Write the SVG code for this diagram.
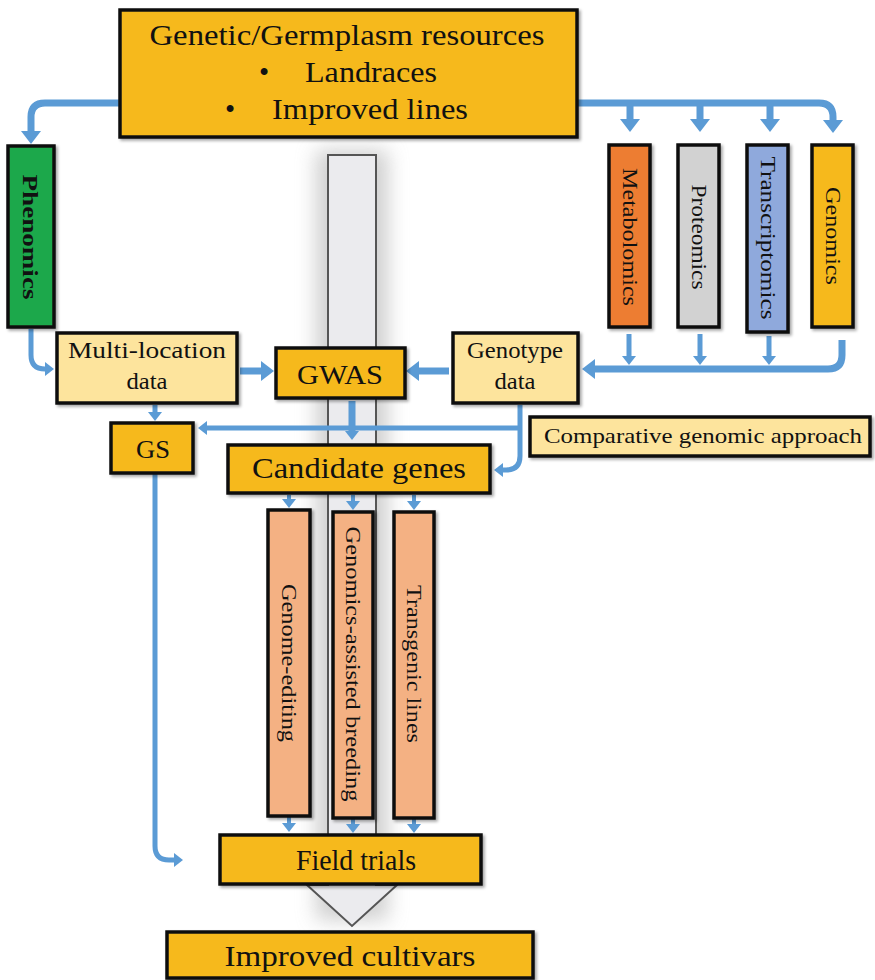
<svg xmlns="http://www.w3.org/2000/svg" width="875" height="980" viewBox="0 0 875 980">
  <defs>
    <filter id="shadow" x="-10%" y="-10%" width="130%" height="130%">
      <feDropShadow dx="2" dy="2" stdDeviation="1.5" flood-color="#000" flood-opacity="0.35"/>
    </filter>
    <filter id="glow" x="-50%" y="-10%" width="200%" height="120%">
      <feGaussianBlur stdDeviation="10"/>
    </filter>
    <marker id="ah" markerUnits="userSpaceOnUse" markerWidth="14" markerHeight="20" viewBox="0 0 14 20" refX="1" refY="10" orient="auto">
      <path d="M0,0 L13,10 L0,20 z" fill="#5b9bd5"/>
    </marker>
    <marker id="as" markerUnits="userSpaceOnUse" markerWidth="10" markerHeight="14" viewBox="0 0 10 14" refX="1" refY="7" orient="auto">
      <path d="M0,0 L9,7 L0,14 z" fill="#5b9bd5"/>
    </marker>
    <style>
      .box { stroke: #111; stroke-width: 3.5; filter: url(#shadow); }
      .gold { fill: #f6b91f; }
      .cream { fill: #fde49d; }
      .peach { fill: #f4b183; }
      text { font-family: "Liberation Serif", "DejaVu Serif", serif; fill: #111; text-anchor: middle; }
      .conn path { fill: none; stroke: #5b9bd5; stroke-width: 7; }
      .conn path.thin { stroke-width: 5; }
      .conn path.small { stroke-width: 4; }
    </style>
  </defs>

  <rect width="875" height="980" fill="#ffffff"/>

  <!-- central flow arrow behind the pipeline -->
  <g id="backbone">
    <rect x="316" y="150" width="72" height="770" fill="#b0b0b0" opacity="0.6" filter="url(#glow)"/>
    <path d="M328,155 H376 V885 H397 L352,926 L307,885 H328 Z" fill="#ebebee" stroke="#555" stroke-width="2"/>
  </g>

  <!-- connectors -->
  <g class="conn" id="connectors">
    <path d="M122,103 H45 Q31,103 31,117 V132" marker-end="url(#ah)"/>
    <path d="M575,103 H819 Q833,103 833,117 V121" marker-end="url(#ah)"/>
    <path d="M630,103 V120" marker-end="url(#ah)"/>
    <path d="M700,103 V120" marker-end="url(#ah)"/>
    <path d="M770,103 V120" marker-end="url(#ah)"/>

    <path d="M31,329 V355 Q31,369 45,369 H46" class="thin" marker-end="url(#as)"/>
    <path d="M842,340 V355 Q842,369 828,369 H594" marker-end="url(#ah)"/>
    <path d="M629,334 V357" class="thin" marker-end="url(#as)"/>
    <path d="M700,334 V357" class="thin" marker-end="url(#as)"/>
    <path d="M769,336 V357" class="thin" marker-end="url(#as)"/>

    <path d="M240,371 H262" marker-end="url(#ah)"/>
    <path d="M449,371 H418" marker-end="url(#ah)"/>
    <path d="M155,405 V413" class="thin" marker-end="url(#as)"/>

    <path d="M520,405 V456 Q520,470 506,470 H502" class="thin" marker-end="url(#as)"/>
    <path d="M520,428 H206" class="thin" marker-end="url(#as)"/>
    <path d="M352,401 V432" marker-end="url(#as)"/>

    <path d="M289,495 V500" class="small" marker-end="url(#as)"/>
    <path d="M353,495 V502" class="small" marker-end="url(#as)"/>
    <path d="M414,495 V502" class="small" marker-end="url(#as)"/>
    <path d="M289,817 V824" class="small" marker-end="url(#as)"/>
    <path d="M353,819 V825" class="small" marker-end="url(#as)"/>
    <path d="M414,819 V825" class="small" marker-end="url(#as)"/>

    <path d="M155,474 V846 Q155,860 169,860 H175" class="thin" marker-end="url(#as)"/>
  </g>

  <!-- source material -->
  <g id="resources">
    <rect class="box gold" x="120" y="10" width="457" height="127"/>
    <text x="347" y="45" font-size="29" textLength="395" lengthAdjust="spacingAndGlyphs">Genetic/Germplasm resources</text>
    <text x="264" y="82" font-size="29">•</text>
    <text x="371" y="82" font-size="29" textLength="132" lengthAdjust="spacingAndGlyphs">Landraces</text>
    <text x="230" y="119" font-size="29">•</text>
    <text x="370" y="119" font-size="29" textLength="196" lengthAdjust="spacingAndGlyphs">Improved lines</text>
  </g>

  <!-- omics platforms -->
  <g id="phenomics">
    <rect class="box" x="8" y="146" width="46" height="181" fill="#1aa84b"/>
    <text transform="translate(31,237) rotate(90)" dy="0.35em" font-size="22" font-weight="bold" textLength="125" lengthAdjust="spacingAndGlyphs">Phenomics</text>
  </g>
  <g id="metabolomics">
    <rect class="box" x="609" y="145" width="41" height="182" fill="#ed7d31"/>
    <text transform="translate(629.5,237) rotate(90)" dy="0.35em" font-size="20" textLength="138" lengthAdjust="spacingAndGlyphs">Metabolomics</text>
  </g>
  <g id="proteomics">
    <rect class="box" x="678" y="145" width="41" height="182" fill="#d2d2d2"/>
    <text transform="translate(698.5,237) rotate(90)" dy="0.35em" font-size="20" textLength="105" lengthAdjust="spacingAndGlyphs">Proteomics</text>
  </g>
  <g id="transcriptomics">
    <rect class="box" x="747" y="145" width="41" height="187" fill="#8fa9dc"/>
    <text transform="translate(767.5,238) rotate(90)" dy="0.35em" font-size="20" textLength="163" lengthAdjust="spacingAndGlyphs">Transcriptomics</text>
  </g>
  <g id="genomics">
    <rect class="box" x="812" y="145" width="41" height="182" fill="#f6b91f"/>
    <text transform="translate(832.5,236) rotate(90)" dy="0.35em" font-size="20" textLength="98" lengthAdjust="spacingAndGlyphs">Genomics</text>
  </g>

  <!-- data and analysis -->
  <g id="multi-location">
    <rect class="box cream" x="57" y="333" width="180" height="70"/>
    <text x="147" y="358" font-size="23" textLength="158" lengthAdjust="spacingAndGlyphs">Multi-location</text>
    <text x="147" y="389" font-size="23" textLength="41" lengthAdjust="spacingAndGlyphs">data</text>
  </g>
  <g id="gwas">
    <rect class="box gold" x="276" y="348" width="129" height="50"/>
    <text x="340" y="384" font-size="28" textLength="86" lengthAdjust="spacingAndGlyphs">GWAS</text>
  </g>
  <g id="genotype">
    <rect class="box cream" x="453" y="333" width="125" height="70"/>
    <text x="515" y="358" font-size="23" textLength="96" lengthAdjust="spacingAndGlyphs">Genotype</text>
    <text x="515" y="389" font-size="23" textLength="41" lengthAdjust="spacingAndGlyphs">data</text>
  </g>
  <g id="gs">
    <rect class="box gold" x="111" y="423" width="82" height="50"/>
    <text x="153" y="458" font-size="26" textLength="34" lengthAdjust="spacingAndGlyphs">GS</text>
  </g>
  <g id="candidate-genes">
    <rect class="box gold" x="228" y="445" width="262" height="48"/>
    <text x="359" y="478" font-size="29" textLength="214" lengthAdjust="spacingAndGlyphs">Candidate genes</text>
  </g>
  <g id="comparative">
    <rect class="box cream" x="530" y="417" width="340" height="39"/>
    <text x="703" y="443" font-size="21" textLength="318" lengthAdjust="spacingAndGlyphs">Comparative genomic approach</text>
  </g>

  <!-- breeding routes -->
  <g id="genome-editing">
    <rect class="box peach" x="268" y="510" width="42" height="306"/>
    <text transform="translate(289,663) rotate(90)" dy="0.35em" font-size="20" textLength="158" lengthAdjust="spacingAndGlyphs">Genome-editing</text>
  </g>
  <g id="genomics-assisted">
    <rect class="box peach" x="333" y="512" width="40" height="306"/>
    <text transform="translate(353,664) rotate(90)" dy="0.35em" font-size="20" textLength="275" lengthAdjust="spacingAndGlyphs">Genomics-assisted breeding</text>
  </g>
  <g id="transgenic">
    <rect class="box peach" x="394" y="512" width="40" height="306"/>
    <text transform="translate(414,664) rotate(90)" dy="0.35em" font-size="20" textLength="158" lengthAdjust="spacingAndGlyphs">Transgenic lines</text>
  </g>

  <!-- outcomes -->
  <g id="field-trials">
    <rect class="box gold" x="220" y="835" width="261" height="49"/>
    <text x="356" y="870" font-size="29" textLength="120" lengthAdjust="spacingAndGlyphs">Field trials</text>
  </g>
  <g id="improved-cultivars">
    <rect class="box gold" x="167" y="932" width="366" height="46"/>
    <text x="350" y="966" font-size="30" textLength="251" lengthAdjust="spacingAndGlyphs">Improved cultivars</text>
  </g>
</svg>
